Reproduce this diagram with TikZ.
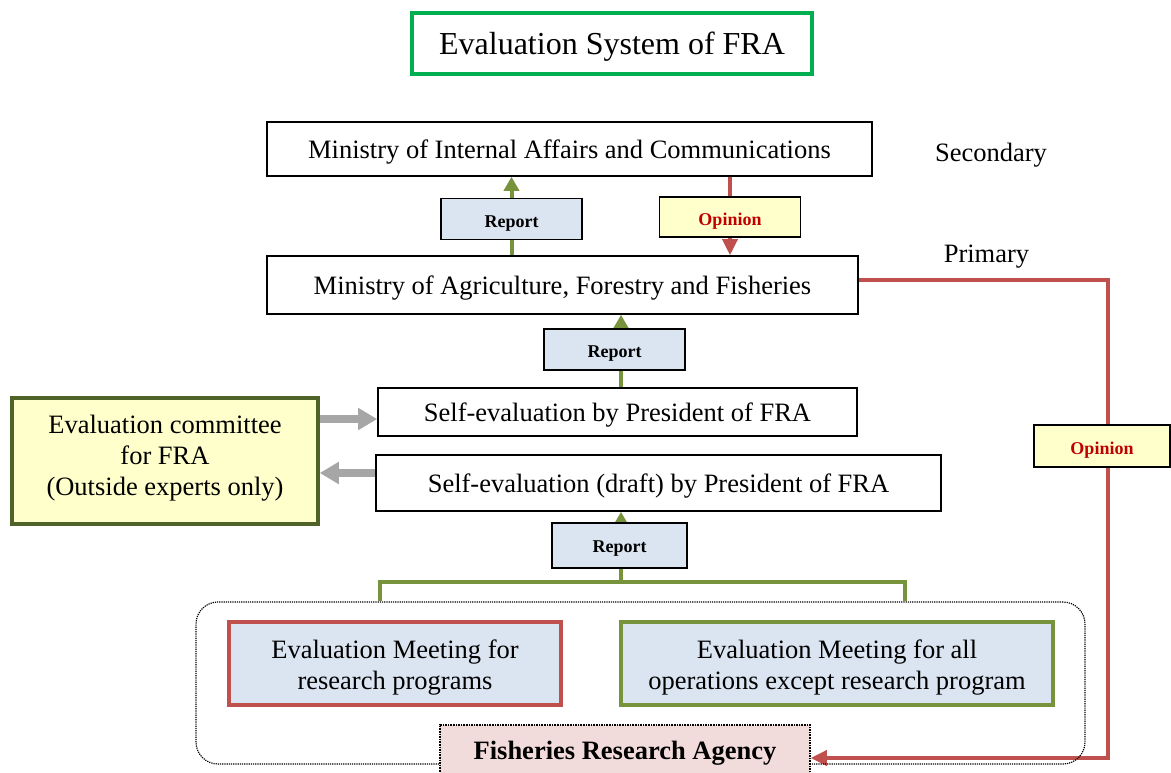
\documentclass[tikz,border=0pt]{standalone}
\usepackage{fontspec}
\setmainfont{Liberation Serif}
\usetikzlibrary{arrows.meta,calc}
\pgfdeclarelayer{back}
\pgfsetlayers{back,main}

\definecolor{titlegreen}{RGB}{0,176,80}
\definecolor{olive}{RGB}{119,147,60}
\definecolor{darkolive}{RGB}{79,98,40}
\definecolor{brick}{RGB}{192,80,77}
\definecolor{opred}{RGB}{192,0,0}
\definecolor{paleblue}{RGB}{219,229,241}
\definecolor{paleyellow}{RGB}{255,255,204}
\definecolor{palepink}{RGB}{242,220,219}
\definecolor{arrowgray}{RGB}{166,166,166}

\begin{document}
\begin{tikzpicture}[x=1pt,y=-1pt,
  box/.style={draw=black,line width=1.6pt,fill=white,inner sep=0pt,align=center,
    font=\fontsize{26.5}{31}\selectfont,text height=19.5pt,text depth=0pt},
  tag/.style={draw=black,line width=1.4pt,inner sep=0pt,minimum width=141pt,
    minimum height=41pt,font=\fontsize{18}{22}\selectfont\bfseries,
    text height=16.5pt,text depth=0pt},
  reporttag/.style={tag,fill=paleblue},
  opiniontag/.style={tag,fill=paleyellow,text=opred},
  greenflow/.style={draw=olive,line width=4pt,-{Triangle[length=14pt,width=15pt]}},
  greenline/.style={draw=olive,line width=4pt},
  redflow/.style={draw=brick,line width=3.5pt,-{Triangle[length=16pt,width=15pt]}},
  grayflow/.style={draw=arrowgray,line width=8pt,-{Triangle[length=19pt,width=21pt]}},
  sidetext/.style={inner sep=0pt,anchor=base,font=\fontsize{26.5}{31}\selectfont}
]
\useasboundingbox (0,0) rectangle (1171,772);

% title
\node[box,draw=titlegreen,line width=3.5pt,minimum width=400pt,minimum height=61pt,
  font=\fontsize{32}{38}\selectfont,text height=22pt] (title) at (612,43.5)
  {Evaluation System of FRA};

% ministries and levels
\node[box,minimum width=605pt,minimum height=54pt] (miac) at (569.5,149)
  {Ministry of Internal Affairs and Communications};
\node[sidetext] (sec) at (991,161) {Secondary};
\node[box,minimum width=591pt,minimum height=58pt,text height=18pt] (maff) at (562.5,285)
  {Ministry of Agriculture, Forestry and Fisheries};
\node[sidetext] (pri) at (986.5,262) {Primary};

\node[reporttag] (rep1) at (511.5,219) {Report};
\node[opiniontag,minimum height=40pt] (op1) at (730,217) {Opinion};
\node[reporttag] (rep2) at (614.5,349.5) {Report};

% self-evaluation
\node[box,minimum width=479pt,minimum height=48pt] (self) at (617.5,412)
  {Self-evaluation by President of FRA};
\node[box,minimum width=565pt,minimum height=56pt,text height=18pt] (draft) at (658.5,483)
  {Self-evaluation (draft) by President of FRA};
\node[box,draw=darkolive,line width=3.5pt,fill=paleyellow,minimum width=306pt,
  minimum height=126pt,text height=68pt,text depth=0pt] (comm) at (165,461)
  {Evaluation committee\\for FRA\\(Outside experts only)};
\node[reporttag,minimum width=135pt,minimum height=45pt,text height=14pt] (rep3)
  at (619.5,545.5) {Report};

% agency group
\node[draw=black,densely dotted,line width=1.2pt,rounded corners=22pt,inner sep=0pt,
  minimum width=889pt,minimum height=162pt] (grp) at (640.5,683) {};
\node[box,draw=brick,line width=3.5pt,fill=paleblue,minimum width=332pt,
  minimum height=83pt,text height=51pt,text depth=0pt] (rmeet) at (395,663.5)
  {Evaluation Meeting for\\research programs};
\node[box,draw=olive,line width=3.5pt,fill=paleblue,minimum width=432pt,
  minimum height=83pt,text height=51pt,text depth=0pt] (omeet) at (837,663.5)
  {Evaluation Meeting for all\\operations except research program};
\node[box,draw=black,densely dotted,line width=1.5pt,fill=palepink,anchor=north,
  minimum width=370pt,minimum height=52pt,text height=18pt,
  font=\fontsize{26.5}{31}\selectfont\bfseries]
  (fra) at (625,724) {Fisheries Research Agency};

\node[opiniontag,minimum width=136pt,minimum height=42pt] (op2) at (1102,446) {Opinion};

% connectors
\coordinate (stem) at (621,582);
\coordinate (bl) at (380,582);
\coordinate (br) at (905,582);
\coordinate (rc) at (1108,758);
\begin{pgfonlayer}{back}
  \draw[greenflow] (maff.north -| rep1) -- (miac.south -| rep1);
  \draw[redflow] (miac.south -| op1) -- (maff.north -| op1);
  \draw[greenflow] (self.north -| stem) -- (maff.south -| stem);
  \draw[greenline] (bl |- grp.north) -- (bl) -- (br) -- (br |- grp.north);
  \draw[greenflow] (stem) -- (draft.south -| stem);
  \draw[grayflow] ($(comm.east |- self.west)+(0,7)$) -- ($(self.west)+(0,7)$);
  \draw[grayflow] ($(draft.west)+(0,-10)$) -- ($(comm.east |- draft.west)+(0,-10)$);
  \draw[redflow] ($(maff.east)+(0,-5)$) -| (rc) -- (fra.east |- rc);
\end{pgfonlayer}
\end{tikzpicture}
\end{document}
